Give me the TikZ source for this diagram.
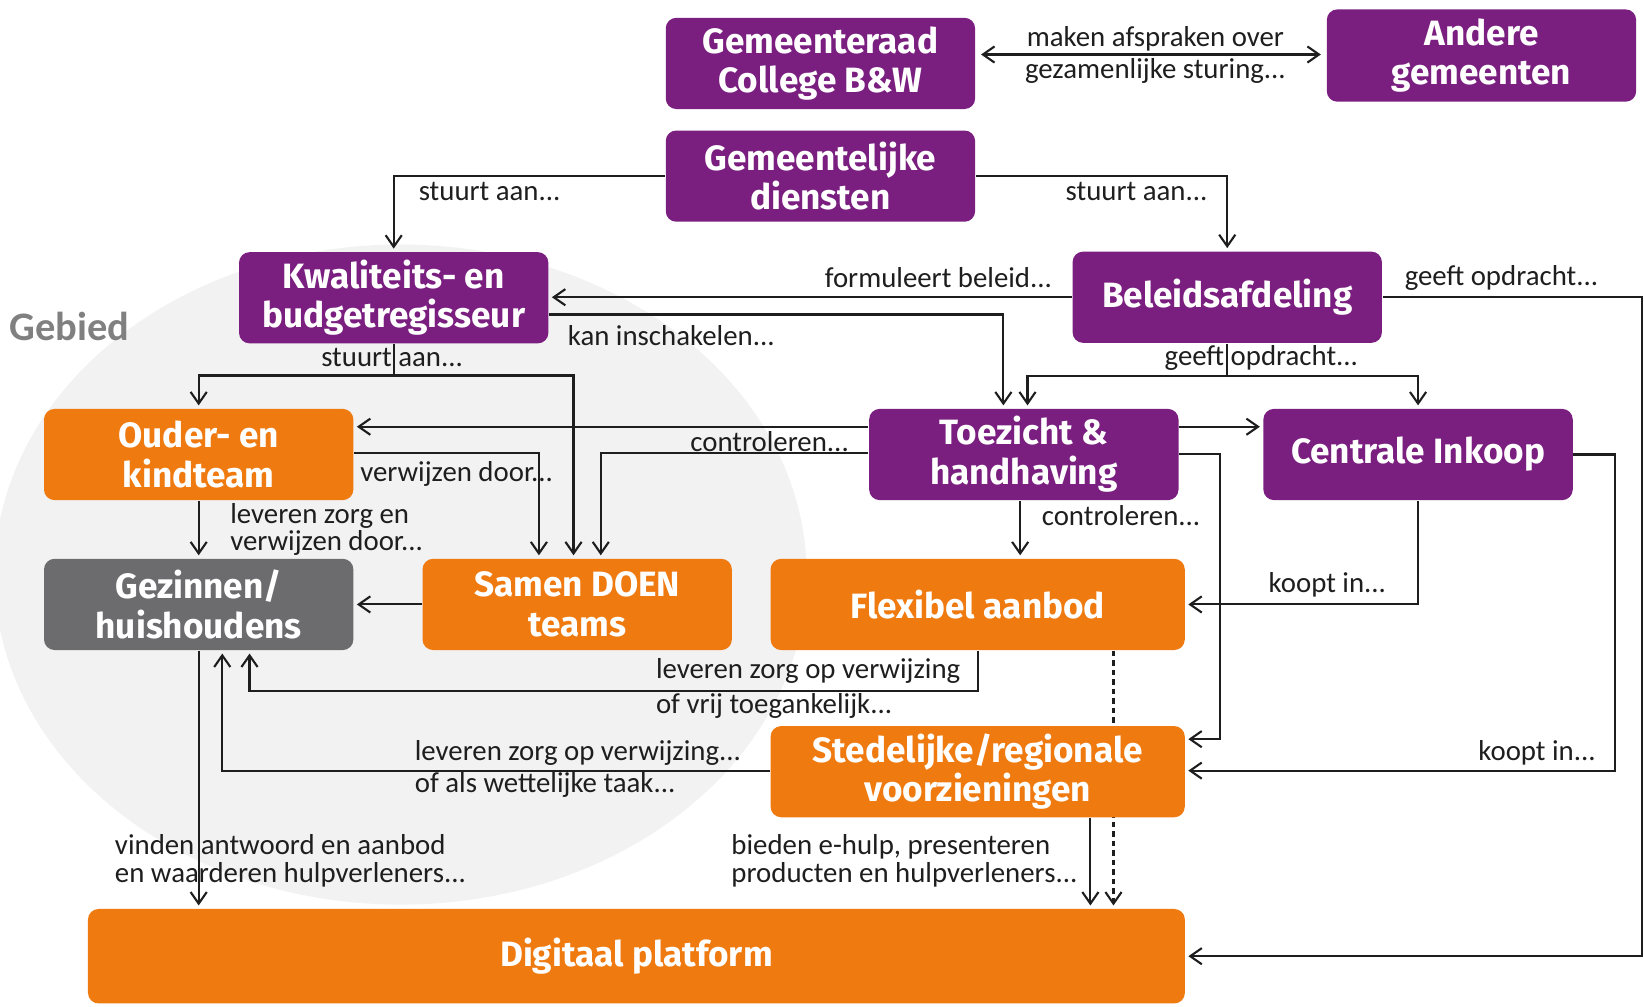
\documentclass[tikz,border=0pt]{standalone}
\usepackage{fontspec}
\setmainfont{Carlito}
\newfontfamily\boxfont{Fira Sans}
\usetikzlibrary{arrows.meta,calc}
\definecolor{purp}{RGB}{122,30,128}
\definecolor{oran}{RGB}{239,122,16}
\definecolor{grbox}{RGB}{108,108,110}
\definecolor{lnc}{RGB}{30,30,30}
\definecolor{bgdisc}{RGB}{242,242,242}
\definecolor{gebc}{RGB}{128,128,128}
\pgfdeclarelayer{bg}
\pgfsetlayers{bg,main}
\begin{document}
\begin{tikzpicture}[x=0.0104847cm,y=-0.0104847cm,
  box/.style={rounded corners=3pt, inner sep=0pt, align=center, text=white,
    font=\boxfont\bfseries\fontsize{10}{11.3}\selectfont,
    minimum width=3.093cm, minimum height=0.912cm},
  pbox/.style={box, fill=purp},
  obox/.style={box, fill=oran},
  wide/.style={minimum width=4.141cm},
  lab/.style={inner sep=0pt, text=lnc, font=\fontsize{8.2}{7.8}\selectfont, align=left},
  conn/.style={draw=lnc, line width=0.6pt},
  arr/.style={conn, -{Straight Barb[length=3.3pt,width=4.6pt]}, shorten >=0.8pt},
  dbl/.style={conn, {Straight Barb[length=3.3pt,width=4.6pt]}-{Straight Barb[length=3.3pt,width=4.6pt]}, shorten >=1.5pt, shorten <=1.5pt},
  ]
\useasboundingbox (0,0) rectangle (1568,960);

\begin{pgfonlayer}{bg}
  \fill[bgdisc] (382,548) ellipse [x radius=4.06cm, y radius=3.30cm];
\end{pgfonlayer}

% boxes
\node[pbox] (gr) at (782.5,60.5) {Gemeenteraad\\College B\&W};
\node[pbox, minimum height=0.923cm] (ag) at (1413,53) {Andere\\gemeenten};
\node[pbox] (gd) at (782.5,168) {Gemeentelijke\\diensten};
\node[pbox] (kb) at (375.5,284) {Kwaliteits- en\\budgetregisseur};
\node[pbox] (ba) at (1170.5,283.5) {Beleidsafdeling};
\node[obox] (ok) at (189.5,433.5) {Ouder- en\\kindteam};
\node[pbox] (th) at (976.5,433.5) {Toezicht \&\\handhaving};
\node[pbox] (ci) at (1352.5,433.5) {Centrale Inkoop};
\node[box, fill=grbox] (gz) at (189.5,576.5) {Gezinnen/\\huishoudens};
\node[obox] (sd) at (550.5,576.5) {Samen DOEN\\teams};
\node[obox, wide] (fa) at (932.5,576.5) {Flexibel aanbod};
\node[obox, wide] (sr) at (932.5,736) {Stedelijke/regionale\\voorzieningen};
\node[obox, minimum width=10.967cm, minimum height=0.944cm] (dp) at (607,912) {Digitaal platform};

\node[inner sep=0pt, text=gebc, font=\bfseries\fontsize{11.5}{13}\selectfont] (gb) at (66,311) {Gebied};

% connectors
\draw[dbl] (gr.east |- 0,52) -- (ag.west |- 0,52);
\draw[arr] (gd.west) -| (kb.north);
\draw[arr] (gd.east) -| (ba.north);
\draw[arr] (ba.west) -- (kb.east |- ba.west);
\draw[arr] (kb.east |- 0,300) -| (th.north -| 957,0);
\draw[arr] (kb.south) -- ++(0,30) -| (ok.north);
\draw[arr] (kb.south) ++(0,30) -| (sd.north -| 547,0);
\draw[arr] (ba.south) -- ++(0,31) -| (th.north -| 980,0);
\draw[arr] (ba.south) ++(0,31) -| (ci.north);
\draw[arr] (ba.east) -- ++(247,0) |- (dp.east);
\draw[arr] (th.west |- 0,407) -- (ok.east |- 0,407);
\draw[arr] (th.west |- 0,432) -| (sd.north -| 573,0);
\draw[arr] (ok.east |- 0,432) -| (sd.north -| 514,0);
\draw[arr] (ok.south) -- (gz.north);
\draw[arr] (th.east |- 0,407) -- (ci.west |- 0,407);
\draw[arr] (th.east |- 0,433) -- ++(39,0) |- (sr.east |- 0,705);
\draw[arr] (th.south -| 973,0) -- (fa.north -| 973,0);
\draw[arr] (ci.south) |- (fa.east);
\draw[arr] (ci.east) -- ++(40,0) |- (sr.east |- 0,735);
\draw[arr] (sd.west) -- (gz.east);
\draw[arr] (fa.south) -- ++(0,38) -| (gz.south -| 238,0);
\draw[arr] (sr.west |- 0,735) -| (gz.south -| 212,0);
\draw[arr] (gz.south) -- (gz.south |- dp.north);
\draw[arr] (sr.south -| 1040,0) -- (dp.north -| 1040,0);
\begin{pgfonlayer}{bg}
  \draw[arr, dash pattern=on 1.6pt off 1.1pt] (fa.south -| 1062,0) -- (dp.north -| 1062,0);
\end{pgfonlayer}

% labels
\node[lab] (l1) at (1102,37) {maken afspraken over};
\node[lab] (l2) at (1102,68) {gezamenlijke sturing...};
\node[lab] (l3) at (467,183) {stuurt aan...};
\node[lab] (l4) at (1084,183) {stuurt aan...};
\node[lab] (l5) at (895,265) {formuleert beleid...};
\node[lab] (l6) at (1432,265) {geeft opdracht...};
\node[lab, anchor=west] (l7) at (541,320) {kan inschakelen...};
\node[lab] (l8) at (374,341) {stuurt aan...};
\node[lab] (l9) at (1203,341) {geeft opdracht...};
\node[lab] (l10) at (734,421) {controleren...};
\node[lab, anchor=west] (l11) at (343,452) {verwijzen door...};
\node[lab, anchor=west] (l12) at (219,505) {leveren zorg en\\verwijzen door...};
\node[lab, anchor=west] (l13) at (993,492) {controleren...};
\node[lab] (l14) at (1266,558) {koopt in...};
\node[lab, anchor=west] (l15) at (625,640) {leveren zorg op verwijzing};
\node[lab, anchor=west] (l16) at (625,673) {of vrij toegankelijk...};
\node[lab, anchor=west] (l17) at (395,718) {leveren zorg op verwijzing...};
\node[lab, anchor=west] (l18) at (395,749) {of als wettelijke taak...};
\node[lab] (l19) at (1466,718) {koopt in...};
\node[lab, anchor=west] (l20) at (109,821) {vinden antwoord en aanbod\\en waarderen hulpverleners...};
\node[lab, anchor=west] (l21) at (697,821) {bieden e-hulp, presenteren\\producten en hulpverleners...};
\end{tikzpicture}
\end{document}
